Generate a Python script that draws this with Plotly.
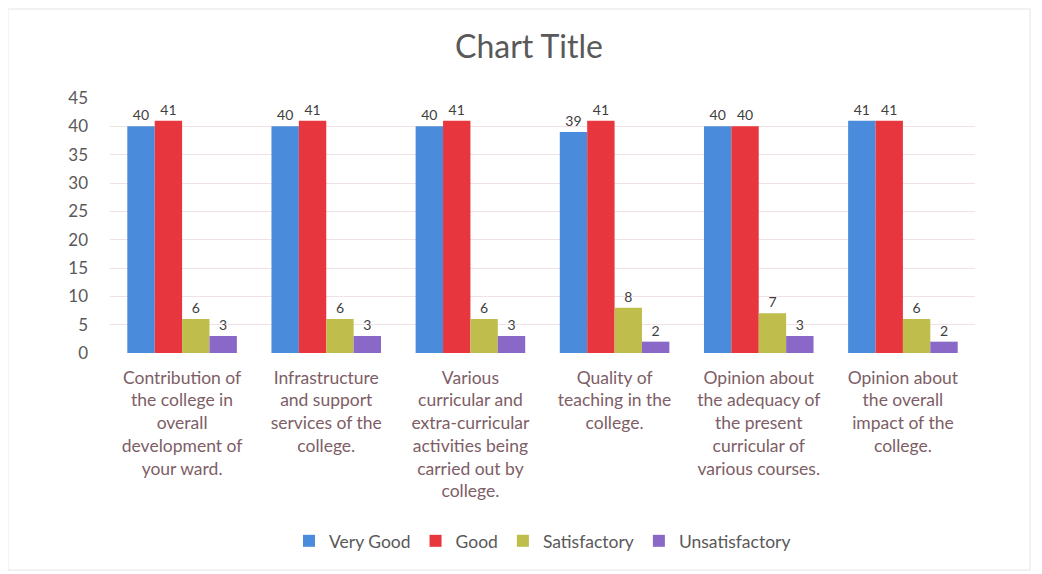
import plotly.graph_objects as go

categories = [
    "Contribution of<br>the college in<br>overall<br>development of<br>your ward.",
    "Infrastructure<br>and support<br>services of the<br>college.",
    "Various<br>curricular and<br>extra-curricular<br>activities being<br>carried out by<br>college.",
    "Quality of<br>teaching in the<br>college.",
    "Opinion about<br>the adequacy of<br>the present<br>curricular of<br>various courses.",
    "Opinion about<br>the overall<br>impact of the<br>college.",
]
very_good = [40, 40, 40, 39, 40, 41]
good = [41, 41, 41, 41, 40, 41]
satisfactory = [6, 6, 6, 8, 7, 6]
unsatisfactory = [3, 3, 3, 2, 3, 2]

series = [
    ("Very Good", very_good, "#4A8CDB"),
    ("Good", good, "#E8363E"),
    ("Satisfactory", satisfactory, "#BFBD4C"),
    ("Unsatisfactory", unsatisfactory, "#8A68C8"),
]

fig = go.Figure()
for name, vals, col in series:
    fig.add_trace(go.Bar(
        x=categories, y=vals, name=name,
        marker=dict(color=col, line=dict(width=0)),
        text=vals, textposition="outside", cliponaxis=False,
        textfont=dict(size=14, color="#404040", family="Lato"),
    ))

fig.update_layout(
    width=1042, height=574,
    paper_bgcolor="white", plot_bgcolor="white",
    barmode="group", bargap=0.24, bargroupgap=0,
    title=dict(text="Chart Title", x=0.5, xanchor="center", y=0.932, yanchor="middle",
               font=dict(size=32, color="#595959", family="Lato")),
    margin=dict(l=102, r=75, t=90, b=229),
    font=dict(family="Lato"),
    xaxis=dict(tickfont=dict(size=17.5, color="#7d5e66", family="Lato"),
               showgrid=False, showline=False, ticks="", tickangle=0,
               ticklabelstandoff=12),
    yaxis=dict(range=[0, 45], dtick=5, showgrid=True, gridcolor="#f0e2e4",
               zeroline=False, showline=False,
               tickfont=dict(size=17, color="#595959", family="Lato"),
               ticklabelstandoff=21),
    legend=dict(orientation="h", x=0.5, xanchor="center", y=-0.737, yanchor="middle",
                font=dict(size=17.5, color="#595959", family="Lato"),
                itemwidth=30, traceorder="normal"),
    shapes=[dict(type="rect", xref="paper", yref="paper",
                 x0=-0.118, x1=1.0636, y0=-0.851, y1=1.349,
                 line=dict(color="#e4e4e4", width=1))],
)

fig.write_html("out.html")
